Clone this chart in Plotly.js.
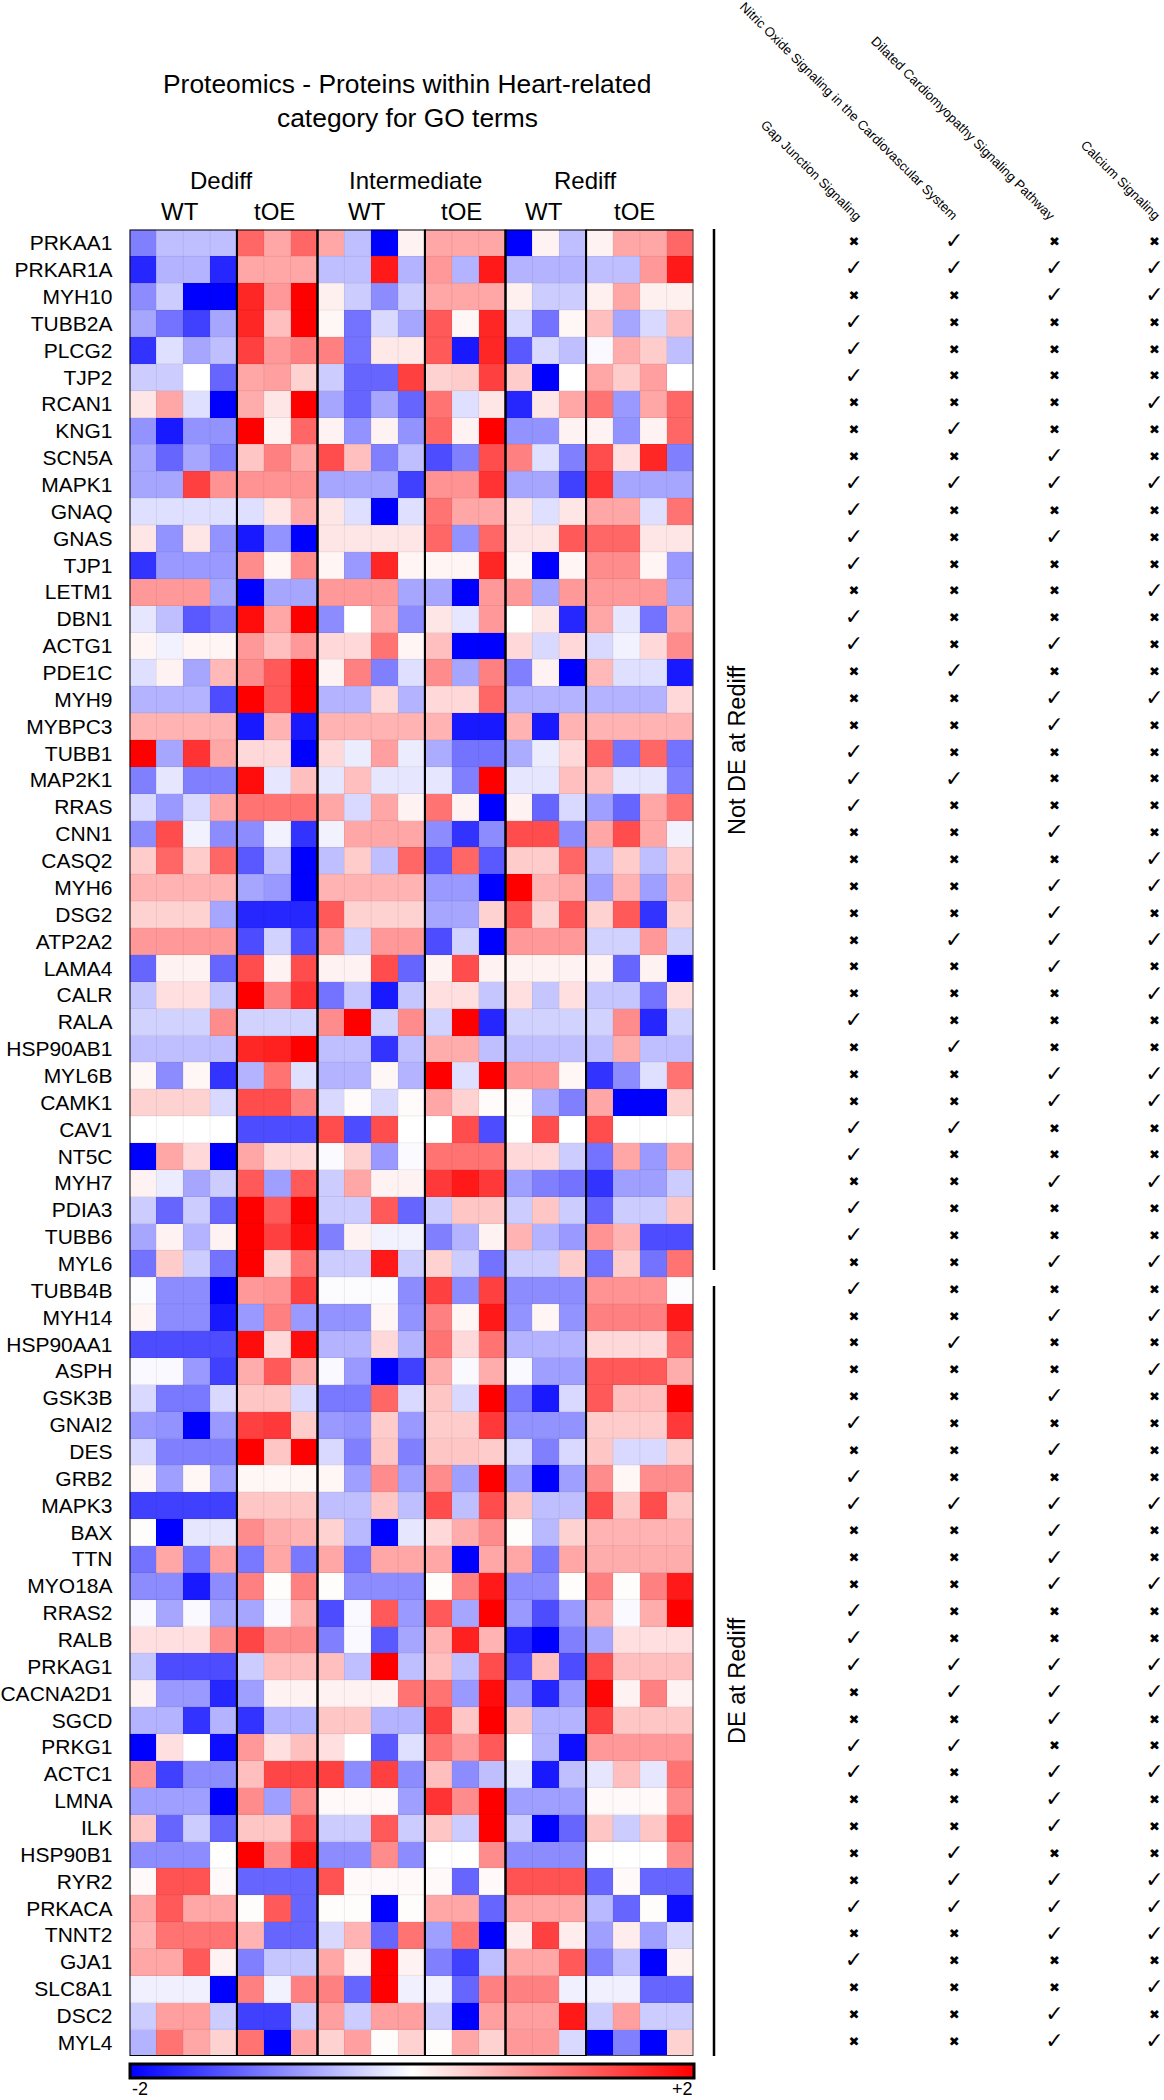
<!DOCTYPE html>
<html>
<head>
<meta charset="utf-8">
<script src="https://cdn.plot.ly/plotly-3.0.1.min.js"></script>
<style>html,body{margin:0;padding:0;background:#fff}</style>
</head>
<body>
<div id="plot1" style="width:1164px;height:2100px"></div>
<script>
// protein names, top to bottom
let geneLabels = ["PRKAA1","PRKAR1A","MYH10","TUBB2A","PLCG2","TJP2","RCAN1","KNG1","SCN5A","MAPK1","GNAQ","GNAS","TJP1","LETM1","DBN1","ACTG1","PDE1C","MYH9","MYBPC3","TUBB1","MAP2K1","RRAS","CNN1","CASQ2","MYH6","DSG2","ATP2A2","LAMA4","CALR","RALA","HSP90AB1","MYL6B","CAMK1","CAV1","NT5C","MYH7","PDIA3","TUBB6","MYL6","TUBB4B","MYH14","HSP90AA1","ASPH","GSK3B","GNAI2","DES","GRB2","MAPK3","BAX","TTN","MYO18A","RRAS2","RALB","PRKAG1","CACNA2D1","SGCD","PRKG1","ACTC1","LMNA","ILK","HSP90B1","RYR2","PRKACA","TNNT2","GJA1","SLC8A1","DSC2","MYL4"];

// one row per protein: Dediff WT(4) tOE(3), Intermediate WT(4) tOE(3), Rediff WT(3) tOE(4)
let zValues = [
[-1,-.5,-.5,-.5, 1.2,.7,1.2, .7,-.5,-2,.1, .7,.7,.7, -2,.1,-.5, .1,.7,.7,1.2],
[-1.7,-.6,-.6,-1.7, .7,.7,.7, -.5,-.5,1.8,-.6, .8,-.6,1.8, -.6,-.6,-.6, -.5,-.5,.8,1.8],
[-.9,-.4,-2,-2, 1.7,.8,2, .12,-.4,-.9,-.4, .7,.7,.7, .12,-.4,-.4, .12,.7,.12,.12],
[-.7,-1.1,-1.5,-.7, 1.7,.5,2, .07,-1.1,-.3,-.7, 1.3,.07,1.7, -.3,-1.1,.07, .5,-.7,-.3,.5],
[-1.6,-.25,-.7,-.5, 1.5,.8,1, 1,-1.1,.18,.18, 1.3,-1.8,1.7, -1.3,-.3,-.5, -.05,.65,.4,-.5],
[-.4,-.4,0,-1.2, .7,.75,.35, -.4,-1.2,-1.2,1.5, .35,.4,1.5, .4,-2,0, .7,.4,.75,0],
[.2,.7,-.25,-2, .65,.2,2, -.7,-1.2,-.7,-1.2, 1.1,-.25,.2, -1.7,.2,.7, 1.1,-.8,.7,1.2],
[-.85,-1.8,-.85,-.85, 2,.1,1.2, .1,-.85,.1,-.85, 1.2,.1,2, -.85,-.85,.1, .1,-.85,.1,1.2],
[-.7,-1.2,-.7,-1, .45,1,.7, 1.4,.5,-1,-.5, -1.4,-1,1.4, 1,-.25,-1, 1.4,.25,1.7,-1],
[-.7,-.7,1.5,.85, .85,.85,.85, -.7,-.7,-.7,-1.5, .85,.85,1.6, -.7,-.7,-1.5, 1.6,-.7,-.7,-.7],
[-.25,-.25,-.25,-.25, -.25,.2,.7, .2,-.25,-2,-.25, 1.1,.7,.7, .2,-.25,.2, .7,.7,-.25,1.1],
[.2,-.85,.2,-.85, -1.8,-.85,-2, .2,.2,.2,.2, 1.2,-.85,1.2, .2,.2,1.3, 1.2,1.2,.2,.2],
[-1.6,-.8,-.8,-.8, .9,.08,.9, .08,-.8,1.7,.08, .08,.08,1.7, .08,-2,.08, .9,.9,.08,-.8],
[.8,.8,.8,-.7, -2,-.7,-.7, .8,.8,.8,-.7, -.7,-2,.8, .8,-.7,.8, .8,.8,.8,-.7],
[-.2,-.5,-1.3,-1.1, 1.9,.7,2, -.9,0,.7,-.9, .2,-.2,.8, 0,.2,-1.7, .7,-.2,-1.1,.7],
[.08,-.1,.08,.08, .8,.5,.8, .3,.3,1.1,.08, .5,-2,-2, .3,-.3,.3, -.3,-.1,.3,.9],
[-.25,.1,-.7,.55, .9,1.3,2, .1,1,-1,-.25, .9,-.7,1, -1,.1,-2, .55,-.25,-.25,-1.8],
[-.6,-.6,-.6,-1.4, 2,1.3,2, -.6,-.6,.3,-.6, .3,.3,1.2, -.6,-.6,-.6, -.6,-.6,-.6,.3],
[.6,.6,.6,.6, -1.8,.6,-1.8, .6,.6,.6,.6, .6,-1.8,-1.8, .6,-1.8,.6, .6,.6,.6,.6],
[2,-.7,1.6,.7, .3,.3,-2, .3,-.15,.75,-.15, -.65,-1.1,-1.1, -.65,-.15,.3, 1.2,-1.1,1.2,-1.1],
[-1,-.2,-1,-1, 1.9,-.2,.5, -.2,.5,-.2,-.2, -.2,-1,2, -.2,-.2,.5, .5,-.2,-.2,-1],
[-.3,-.8,-.3,.7, 1.1,1.1,1.1, .7,-.3,.7,.1, 1.1,.1,-2, .1,-1.2,-.3, -.75,-1.2,.7,1.1],
[-.9,1.4,-.1,-.9, -.9,-.1,-1.6, -.1,.7,.7,.7, -.9,-1.6,-.9, 1.4,1.4,-.9, .7,1.4,.7,-.1],
[.4,1.2,.4,1.2, -1.3,-.5,-2, -.5,.4,-.5,1.2, -1.3,1.2,-1.3, .4,.4,1.2, -.5,.4,-.5,.4],
[.6,.6,.6,.6, -.7,-.8,-2, .6,.6,.6,.6, -.8,-.8,-2, 2,.6,.7, -.75,.6,-.75,.6],
[.35,.35,.35,-.7, -1.7,-1.7,-1.7, 1.3,.35,.35,.35, -.7,-.7,.35, 1.3,.35,1.3, .35,1.3,-1.6,.35],
[.8,.8,.8,.8, -1.4,-.35,-1.4, .8,-.35,.8,.8, -1.4,-.35,-2, .8,.8,.8, -.35,-.35,.8,-.35],
[-1.2,.1,.1,-1.2, 1.4,.1,1.4, .1,.1,1.4,-1.2, .1,1.4,.1, .1,.1,.1, .1,-1.2,.1,-2],
[-.45,.25,.25,-.45, 2,1,1.6, -1.1,-.45,-1.8,-.45, .25,.25,-.45, .25,-.45,.25, -.45,-.45,-1.1,.25],
[-.35,-.35,-.35,.9, -.35,-.35,-.35, .9,2,-.35,.9, -.35,2,-1.7, -.35,-.35,-.35, -.35,.9,-1.7,-.35],
[-.5,-.5,-.5,-.5, 1.7,1.75,2, -.5,-.5,-1.6,-.5, .65,.65,-.5, -.5,-.5,-.5, -.5,.65,-.5,-.5],
[.07,-.9,.07,-1.6, -.6,1.1,-.25, -.6,-.6,.07,-.6, 2,-.25,2, .8,.8,.07, -1.6,-.9,-.25,1.1],
[.35,.35,.35,-.3, 1.4,1.4,1, -.3,.03,-.3,.03, .7,.35,.03, .03,-.65,-1, .7,-2,-2,.35],
[0,0,0,0, -1.4,-1.4,-1.4, 1.4,-1.4,1.4,0, 0,1.4,-1.4, 0,1.4,0, 1.4,0,0,0],
[-2,.7,.3,-2, .7,.3,.3, -.03,.35,-.8,-.03, 1.1,1.1,1.1, .3,.3,-.4, -1.1,.7,-.8,.7],
[.1,-.15,-.7,-.4, 1.3,-.75,1.3, -.4,.7,.1,.1, 1.55,1.8,1.55, -.75,-1,-1.1, -1.6,-.75,-.75,-.4],
[-.4,-1.2,-.4,-1.2, 2,1.3,2, -.4,-.4,1.3,-1.2, -.4,.45,.45, -.4,.45,-.4, -1.2,-.4,-.4,.45],
[-.7,.1,-.6,.1, 2,1.5,1.9, -1,.1,-.1,-.1, -1,-.6,.1, .6,-.6,-.8, .85,.6,-1.4,-1.4],
[-1.1,.4,-.4,-1.1, 2,.35,1.1, -.4,-.4,1.8,-.4, .35,-.4,-1.1, -.4,-.4,.4, -1.1,.4,-1.1,1.1],
[-.02,-.9,-.9,-2, .8,.85,1.5, -.02,-.02,-.02,-.9, 1.5,-.9,1.5, -.9,-.9,-.9, .85,.85,.85,-.02],
[.08,-.9,-.9,-1.8, -.8,1,-.8, -.85,-.85,.08,-.85, 1,.08,1.8, -.85,.08,-.85, 1,1,1,1.8],
[-1.4,-1.4,-1.4,-1.4, 1.9,.3,1.9, -.6,-.6,.3,-.6, 1.1,.3,1.1, -.6,-.6,-.6, .3,.3,.3,1.2],
[-.05,-.05,-.8,-1.5, .65,1.3,.65, -.05,-.8,-2,-1.5, .65,-.05,.65, -.05,-.75,-.75, 1.3,1.3,1.3,.65],
[-.3,-1.05,-1.05,-.3, .45,.45,-.3, -1.05,-1.05,1.2,-.3, .45,-.3,2, -1.05,-1.8,-.3, 1.3,.5,.5,2],
[-.8,-.85,-2,-.8, 1.5,1.55,.4, -.8,-.85,.4,-.8, .4,.4,1.55, -.85,-.85,-.85, .4,.4,.4,1.55],
[-.3,-1,-1,-1, 2,.45,2, -.3,-1,.45,-1, .45,.45,.4, -.3,-1,-.3, .45,-.3,-.3,.4],
[.07,-.75,.07,-.75, .07,.07,.07, .07,-.75,.9,-.75, .9,-.75,2, -.75,-2,-.75, .9,.07,.9,.9],
[-1.5,-1.5,-1.5,-1.5, .45,.45,.45, -.5,-.5,.45,-.5, 1.4,-.5,1.4, .45,-.5,-.5, 1.4,.45,1.4,.45],
[.02,-2,-.2,-.2, .9,.65,.6, .35,-.55,-2,-.2, .3,.65,.9, .02,-.55,.35, .6,.6,.6,.6],
[-1.1,.7,-1.1,.75, -1.05,.7,-1.05, .7,-1.1,.7,.7, .7,-2,.7, .7,-1.05,.7, .65,.65,.65,.65],
[-.9,-.9,-1.8,-.9, 1,.02,1, .02,-.9,-.9,-.9, .02,1,1.8, -.9,-.9,.02, 1,.02,1,1.8],
[-.05,-.7,-.05,-.7, -.7,-.05,.65, -1.4,-.05,1.3,-.8, 1.3,-.7,2, -.8,-1.4,-.8, .65,-.05,.65,2],
[.25,.25,.25,.9, 1.45,.9,.9, -1,-.05,-1.3,-.7, .6,1.75,.6, -1.7,-2,-1, -.7,.25,.25,.25],
[-.45,-1.4,-1.4,-1.4, -.4,.5,.5, .5,-.5,2,-.5, .5,-.5,1.4, -1.4,.5,-1.4, 1.4,.5,.5,.5],
[.1,-.8,-.8,-1.7, -.75,.1,.1, .1,.1,.1,1.1, 1.1,-.8,1.9, -.8,-1.7,-.8, 1.95,.1,1,.1],
[-.6,-.6,-1.6,-.6, -1.6,-.6,-.6, .45,.45,-.6,-.6, 1.5,.45,2, .45,-.6,-.6, 1.5,.45,.45,.45],
[-2,.25,0,-1.9, .8,.25,.5, .25,0,-1.3,-.25, 1.1,.8,1.3, 0,-.6,-1.9, .8,.8,.8,.8],
[.85,-1.5,-.9,-.9, .5,1.45,1.45, 1.5,-.9,1.5,-.9, .5,-.9,-.5, -.2,-1.8,-.5, -.2,.5,-.2,1.1],
[-.75,-.75,-.75,-2, .9,-.75,.9, .05,.05,.05,-.75, 1.6,.9,2, -.75,-.75,-.75, .05,.05,.05,.9],
[.45,-1.2,-.4,-1.2, .45,.45,1.3, -.4,-.4,1.3,-.4, .45,-.4,2, -.4,-2,-1.2, .45,-.4,.45,1.3],
[-.9,-.9,-.9,0, 2,.9,1.75, -.9,-.9,.9,-.9, 0,0,.9, -.9,-.9,-.9, 0,0,0,.9],
[.05,1.35,1.35,.05, -1.2,-1.2,-1.2, 1.35,.05,.05,.05, .05,-1.2,.05, 1.35,1.35,1.35, -1.2,.05,-1.2,-1.2],
[.7,1.3,.7,.7, .02,1.3,-1.2, .02,.02,-2,.02, .7,.7,-1.2, .7,.7,.7, -.55,-1.2,.02,-1.9],
[.6,1.1,1.1,1.1, .6,-1.2,-1.2, -.3,.6,-1.2,1.1, -.75,1.1,-2, .15,1.5,.15, -.75,.15,-.75,-.3],
[.7,.7,1.3,.1, -1,-.45,-.45, .7,.1,2,.1, -1,-1.5,-.5, .7,.7,1.3, -1,-.5,-2,.1],
[-.12,-.12,-.12,-2, 1,-.1,1, 1,-1.2,2,-.12, -.12,-1.2,1, 1,1,-.12, -.12,-.12,-1.2,-1.2],
[-.4,.75,.75,-.4, -1.5,-1.5,-.4, .75,-.4,.75,.75, -.4,-2,.75, .75,.75,1.8, -.4,.75,-.4,-.4],
[-.6,1.1,.7,.35, 1.1,-2,.7, .35,.75,.02,.35, .02,.7,.35, .8,.8,-.3, -2,-1,-2,.35]
];

// pathway membership, one string per protein, 1 = check, 0 = cross
let pathwayLabels = ["Gap Junction Signaling","Nitric Oxide Signaling in the Cardiovascular System","Dilated Cardiomyopathy Signaling Pathway","Calcium Signaling"];
let pathwayFlags = ["0100","1111","0011","1000","1000","1000","0001","0100","0010","1111","1000","1010","1000","0001","1000","1010","0100","0011","0010","1000","1100","1000","0010",
"0001","0011","0010","0111","0010","0001","1000","0100","0011","0011","1100","1000","0011","1000","1000","0011","1000","0011","0100","0001","0010","1000","0010",
"1000","1111","0010","0010","0011","1000","1000","1111","0111","0010","1100","1011","0010","0010","0100","0111","1111","0011","1000","0001","0010","0011"];

let W = 1164, H = 2100;
function px(x){ return x / W; }
function py(y){ return 1 - y / H; }

// split flags into checks and crosses
let checkX = [], checkY = [], crossX = [], crossY = [];
pathwayFlags.forEach(function(f, i){
    pathwayLabels.forEach(function(p, j){
        if (f[j] === "1") { checkX.push(p); checkY.push(geneLabels[i]); }
        else { crossX.push(p); crossY.push(geneLabels[i]); }
    });
});

let heat = {
    type: "heatmap",
    z: zValues,
    y: geneLabels,
    zmin: -2, zmax: 2,
    colorscale: [[0,"#0000ff"],[0.5,"#ffffff"],[1,"#ff0000"]],
    hoverongaps: false,
    colorbar: {
        orientation: "h",
        x: px(130), xanchor: "left",
        y: py(2064), yanchor: "top",
        lenmode: "pixels", len: 564,
        thickness: 14,
        xpad: 0, ypad: 0,
        outlinewidth: 3, outlinecolor: "#000",
        ticks: "", showticklabels: false
    }
};
let checks = {
    type: "scatter", mode: "text", xaxis: "x2", yaxis: "y",
    x: checkX, y: checkY,
    text: checkX.map(function(){ return "\u2713"; }),
    textfont: {family: "DejaVu Sans", size: 22, color: "#000"},
    cliponaxis: false, showlegend: false
};
let crosses = {
    type: "scatter", mode: "text", xaxis: "x2", yaxis: "y",
    x: crossX, y: crossY,
    text: crossX.map(function(){ return "\u2716"; }),
    textfont: {family: "DejaVu Sans", size: 13, color: "#000"},
    cliponaxis: false, showlegend: false
};

var font = "Liberation Sans, Arial, sans-serif";
function label(text, x, y, size, extra){
    return Object.assign({
        text: text, xref: "paper", yref: "paper", x: px(x), y: py(y),
        xanchor: "center", yanchor: "middle", showarrow: false,
        font: {family: font, size: size, color: "#000"}
    }, extra || {});
}

let annotations = [
    label("Proteomics - Proteins within Heart-related", 407, 84, 26.4),
    label("category for GO terms", 407, 118, 26.4),
    label("Dediff", 221, 180, 24), label("Intermediate", 415, 180, 24), label("Rediff", 585, 180, 24),
    label("WT", 180, 211, 24), label("tOE", 274, 211, 24),
    label("WT", 367, 211, 24), label("tOE", 461, 211, 24),
    label("WT", 544, 211, 24), label("tOE", 635, 211, 24),
    label("Not DE at Rediff", 737, 750, 23.5, {textangle: -90}),
    label("DE at Rediff", 737, 1681, 23.5, {textangle: -90}),
    label("Gap Junction Signaling", 811, 171, 13.2, {textangle: 45}),
    label("Nitric Oxide Signaling in the Cardiovascular System", 848, 111, 13.2, {textangle: 45}),
    label("Dilated Cardiomyopathy Signaling Pathway", 963, 129, 13.2, {textangle: 45}),
    label("Calcium Signaling", 1121, 180, 13.2, {textangle: 45}),
    label("-2", 130, 2089, 18, {xanchor: "left"}),
    label("+2", 695, 2089, 18, {xanchor: "right"})
];

// faint cell borders, then the black group boxes
let shapes = [];
for (let c = 0; c < 20; c++) {
    shapes.push({type: "line", xref: "x", yref: "y", x0: c + .5, x1: c + .5, y0: -.5, y1: 67.5, line: {color: "rgba(0,0,0,0.07)", width: 1}});
}
for (let r = 0; r < 67; r++) {
    shapes.push({type: "line", xref: "x", yref: "y", x0: -.5, x1: 20.5, y0: r + .5, y1: r + .5, line: {color: "rgba(0,0,0,0.07)", width: 1}});
}
shapes.push({type: "rect", xref: "x", yref: "y", x0: 16.5, x1: 20.5, y0: -.5, y1: 67.5, line: {color: "#444", width: 2}});
shapes.push({type: "line", xref: "x", yref: "y", x0: 16.5, x1: 20.5, y0: -.5, y1: -.5, line: {color: "#000", width: 2}});
[[-.5,3.5],[3.5,6.5],[6.5,10.5],[10.5,13.5],[13.5,16.5]].forEach(function(g){
    shapes.push({type: "rect", xref: "x", yref: "y", x0: g[0], x1: g[1], y0: -.5, y1: 67.5, line: {color: "#000", width: 2}});
});
// brackets for the two groups
shapes.push({type: "line", xref: "paper", yref: "paper", x0: px(714), x1: px(714), y0: py(229), y1: py(1270), line: {color: "#000", width: 2.5}});
shapes.push({type: "line", xref: "paper", yref: "paper", x0: px(714), x1: px(714), y0: py(1286), y1: py(2056), line: {color: "#000", width: 2.5}});

var layout = {
    width: W, height: H,
    margin: {l: 0, r: 0, t: 0, b: 0, autoexpand: false},
    paper_bgcolor: "#fff", plot_bgcolor: "#fff",
    showlegend: false,
    xaxis: {domain: [px(129.5), px(693.5)], range: [-.5, 20.5], visible: false},
    xaxis2: {domain: [px(803.9), px(1163)], anchor: "y", type: "category", categoryorder: "array", categoryarray: pathwayLabels, range: [-.5, 3.084], visible: false},
    yaxis: {
        domain: [py(2056), py(229.5)], range: [67.5, -.5], type: "category",
        categoryorder: "array", categoryarray: geneLabels,
        tickmode: "array", tickvals: geneLabels, ticktext: geneLabels,
        showgrid: false, zeroline: false, showline: false, ticks: "",
        ticklabelstandoff: 16,
        tickfont: {family: font, size: 21, color: "#000"}
    },
    annotations: annotations,
    shapes: shapes
};

Plotly.newPlot("plot1", [heat, checks, crosses], layout, {displayModeBar: false});
</script>
</body>
</html>
